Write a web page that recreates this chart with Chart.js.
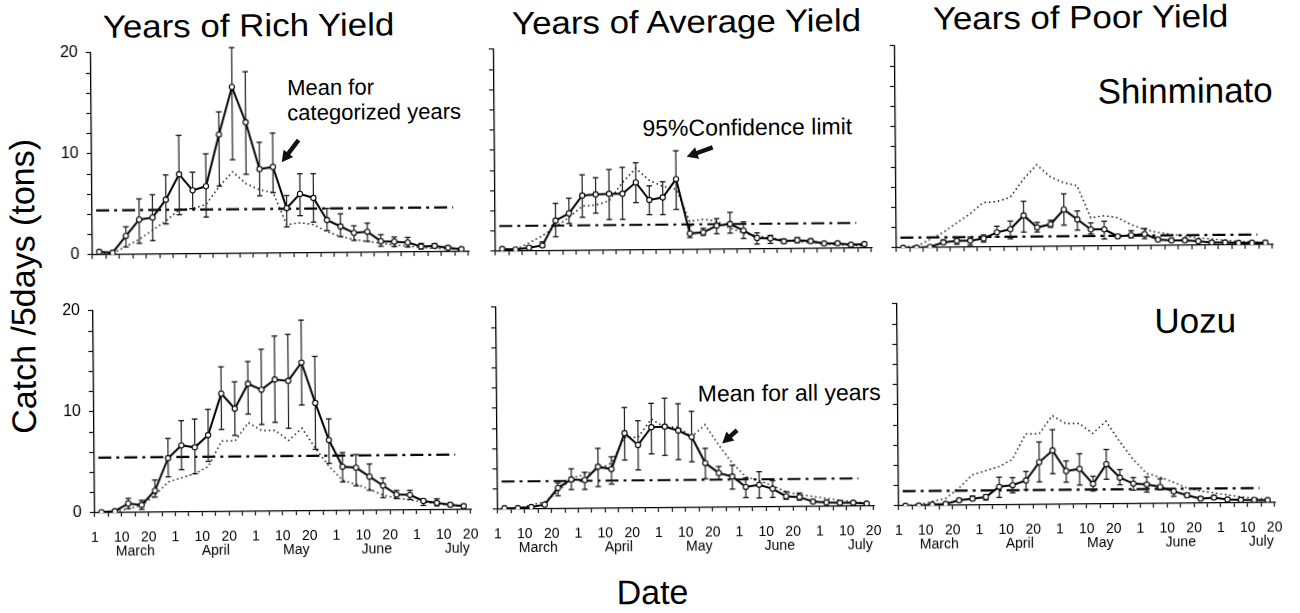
<!DOCTYPE html>
<html>
<head>
<meta charset="utf-8">
<script src="https://cdn.jsdelivr.net/npm/chart.js@4.4.1/dist/chart.umd.min.js"></script>
<style>
  html, body { margin: 0; padding: 0; background: #fff; }
  body { width: 1300px; height: 613px; overflow: hidden; font-family: "Liberation Sans", Arial, sans-serif; color: #000; }
  #page { position: absolute; left: 0; top: 0; width: 1300px; height: 613px; transform: rotate(-0.5deg); transform-origin: 650px 306px; }
  .panel { position: absolute; }
  .lbl { position: absolute; white-space: nowrap; line-height: 1; transform: translate(-50%, -50%); }
  .title { font-size: 32px; transform: translate(-50%, -50%) scaleX(1.09); }
  .station { font-size: 35px; }
  .note { position: absolute; white-space: nowrap; font-size: 23px; line-height: 25px; }
  #ylab { font-size: 34px; transform: translate(-50%, -50%) rotate(-90deg); }
  #xlab { font-size: 34px; }
  svg { position: absolute; left: 0; top: 0; }
</style>
</head>
<body>
<div id="page">
  <div class="lbl title" style="left:251px; top:22px;">Years of Rich Yield</div>
  <div class="lbl title" style="left:689px; top:22px;">Years of Average Yield</div>
  <div class="lbl title" style="left:1083px; top:21px;">Years of Poor Yield</div>
  <div class="lbl station" style="left:1187px; top:95px;">Shinminato</div>
  <div class="lbl station" style="left:1195px; top:325px;">Uozu</div>
  <div class="note" style="left:289px; top:72px; font-size:22px;">Mean for<br>categorized years</div>
  <div class="note" style="left:644px; top:116px;">95%Confidence limit</div>
  <div class="note" style="left:697px; top:382px;">Mean for all years</div>
  <div class="lbl" id="ylab" style="left:23px; top:281px;">Catch /5days (tons)</div>
  <div class="lbl" id="xlab" style="left:650px; top:592px;">Date</div>
  <svg id="arrows" width="1300" height="613"></svg>
</div>
<script>
const months = ['March', 'April', 'May', 'June', 'July'];
const dayMarks = ['1', '10', '20'];

// catch per 5-day period (tons), one value per pentad from 1 March to 20 July
const shinAllYears = [0.1, 0.15, 0.8, 1.5, 2.4, 3.3, 4.4, 4.5, 4.9, 6.7, 8.1, 6.9, 6.3, 6.0, 2.8, 3.0, 2.8, 2.1, 1.6, 1.3, 1.1, 0.9, 0.7, 0.6, 0.45, 0.35, 0.3, 0.2];

const richShinMean = [0.3, 0.2, 1.85, 3.45, 3.65, 5.4, 7.9, 6.3, 6.7, 11.8, 16.5, 13.0, 8.35, 8.55, 4.45, 5.85, 5.45, 3.25, 2.6, 1.95, 2.05, 1.1, 1.05, 0.95, 0.55, 0.6, 0.4, 0.25];
const richShinLo = [0.3, 0.2, 0.75, 1.1, 1.35, 3.0, 3.9, 4.5, 3.65, 6.7, 9.3, 7.85, 5.7, 6.0, 2.6, 3.7, 3.05, 2.2, 1.6, 1.2, 1.1, 0.6, 0.55, 0.5, 0.3, 0.4, 0.3, 0.2];
const richShinHi = [0.3, 0.2, 2.75, 5.5, 5.9, 7.85, 11.75, 8.1, 9.9, 14.05, 20.4, 18.0, 11.0, 11.9, 5.7, 7.85, 7.85, 4.4, 3.85, 2.65, 2.9, 1.75, 1.5, 1.45, 0.85, 0.8, 0.55, 0.3];
const richShinLevel = 4.4;

const avgShinMean = [0.23, 0.17, 0.33, 0.55, 3.0, 3.7, 5.45, 5.55, 5.6, 5.6, 6.7, 4.95, 5.2, 7.0, 1.6, 1.7, 2.35, 2.5, 1.85, 1.1, 1.05, 0.75, 0.85, 0.75, 0.5, 0.5, 0.35, 0.4];
const avgShinLo = [0.23, 0.17, 0.2, 0.4, 1.4, 2.7, 3.3, 3.7, 3.05, 3.05, 4.7, 3.5, 3.5, 4.0, 1.2, 1.4, 1.55, 1.6, 1.05, 0.5, 0.55, 0.55, 0.6, 0.55, 0.35, 0.4, 0.3, 0.3];
const avgShinHi = [0.23, 0.17, 0.5, 0.9, 4.7, 5.2, 7.5, 7.2, 8.0, 8.2, 8.65, 6.35, 6.75, 9.8, 2.4, 2.1, 3.05, 3.65, 2.7, 1.6, 1.35, 0.95, 1.1, 0.95, 0.6, 0.6, 0.45, 0.45];
const avgShinLevel = 2.5;

const poorShinMean = [0.0, 0.0, 0.07, 0.5, 0.65, 0.65, 0.85, 1.45, 1.75, 3.1, 1.9, 2.2, 3.65, 2.65, 1.65, 1.65, 0.95, 1.05, 1.15, 0.6, 0.5, 0.5, 0.4, 0.25, 0.25, 0.2, 0.2, 0.2];
const poorShinLo = [0.0, 0.0, 0.07, 0.35, 0.3, 0.2, 0.5, 1.0, 0.8, 1.45, 1.45, 1.9, 2.1, 1.6, 1.2, 0.7, 0.8, 0.8, 0.7, 0.45, 0.4, 0.35, 0.3, 0.2, 0.2, 0.15, 0.15, 0.15];
const poorShinHi = [0.0, 0.0, 0.07, 0.75, 1.0, 1.0, 1.2, 2.05, 2.55, 4.5, 2.4, 2.6, 5.2, 3.5, 2.3, 2.45, 1.1, 1.5, 1.7, 0.75, 0.65, 0.65, 0.5, 0.35, 0.3, 0.25, 0.25, 0.25];
const poorShinLevel = 1.0;

const uozuAllYears = [0.05, 0.1, 0.4, 0.7, 1.7, 3.0, 3.4, 3.8, 4.5, 7.0, 7.0, 8.8, 8.0, 8.0, 7.0, 8.2, 6.2, 4.4, 3.0, 2.6, 2.1, 1.5, 1.2, 1.0, 0.8, 0.6, 0.45, 0.3];

const richUozuMean = [0.07, 0.15, 0.9, 0.75, 2.15, 5.35, 6.6, 6.4, 7.6, 11.7, 10.2, 12.65, 12.05, 13.05, 12.9, 14.7, 10.7, 7.0, 4.35, 4.25, 3.35, 2.45, 1.55, 1.5, 0.9, 0.7, 0.5, 0.35];
const richUozuLo = [0.07, 0.15, 0.4, 0.3, 1.5, 3.5, 4.2, 3.8, 5.0, 8.15, 7.55, 9.65, 8.6, 8.8, 8.2, 10.5, 6.1, 4.7, 2.85, 2.45, 2.0, 1.25, 1.15, 1.05, 0.45, 0.4, 0.35, 0.25];
const richUozuHi = [0.07, 0.15, 1.4, 1.2, 3.2, 7.3, 9.05, 9.2, 10.15, 14.35, 12.85, 14.85, 16.05, 17.35, 17.5, 18.9, 15.3, 9.1, 5.75, 5.55, 4.6, 3.2, 1.95, 1.95, 1.05, 1.1, 0.65, 0.45];
const richUozuLevel = 5.45;

const avgUozuMean = [0.1, 0.1, 0.2, 0.43, 2.07, 2.9, 2.83, 4.14, 3.88, 7.43, 6.25, 8.0, 8.05, 7.65, 7.0, 4.4, 3.4, 3.05, 2.0, 2.2, 1.8, 1.05, 0.95, 0.5, 0.4, 0.35, 0.35, 0.25];
const avgUozuLo = [0.1, 0.1, 0.2, 0.35, 1.3, 1.9, 1.9, 2.17, 2.4, 4.77, 3.78, 5.36, 5.2, 4.77, 4.54, 2.85, 2.75, 1.8, 0.95, 0.9, 0.95, 0.75, 0.65, 0.4, 0.3, 0.3, 0.3, 0.2];
const avgUozuHi = [0.1, 0.1, 0.25, 0.55, 2.57, 3.95, 3.6, 5.95, 5.1, 9.97, 8.65, 10.36, 10.86, 10.3, 9.54, 5.86, 4.05, 4.15, 2.9, 3.5, 2.6, 1.5, 1.35, 0.65, 0.5, 0.45, 0.4, 0.3];
const avgUozuLevel = 2.75;

const poorUozuMean = [0.0, 0.0, 0.1, 0.15, 0.5, 0.65, 0.8, 1.8, 1.95, 2.4, 4.2, 5.35, 3.3, 3.5, 2.0, 3.95, 2.6, 2.0, 1.9, 1.65, 1.2, 0.8, 0.45, 0.55, 0.35, 0.3, 0.28, 0.25];
const poorUozuLo = [0.0, 0.0, 0.1, 0.15, 0.4, 0.5, 0.5, 0.75, 1.2, 1.5, 2.25, 3.05, 2.2, 1.9, 1.3, 2.45, 1.9, 1.35, 1.15, 1.35, 0.7, 0.6, 0.35, 0.4, 0.25, 0.2, 0.2, 0.2];
const poorUozuHi = [0.0, 0.0, 0.1, 0.2, 0.6, 0.9, 1.0, 2.75, 2.7, 3.3, 6.2, 7.4, 4.3, 5.0, 2.75, 5.4, 3.4, 2.6, 2.65, 2.45, 1.45, 1.0, 0.6, 0.7, 0.45, 0.4, 0.35, 0.3];
const poorUozuLevel = 1.45;

const yTickLabels = [0, 10, 20];

// layout of the 2x3 grid (plot areas), in px
const colLeft = [93, 496, 897];
const rowTop = [48, 306];
const plotW = 377, plotH = 202;
const padL = 60, padT = 12, padR = 16, padB = 60;
const levelSpan = [0.3, 26.9];

const panels = [
  { row: 0, col: 0, mean: richShinMean, lo: richShinLo, hi: richShinHi, all: shinAllYears, level: richShinLevel },
  { row: 0, col: 1, mean: avgShinMean, lo: avgShinLo, hi: avgShinHi, all: shinAllYears, level: avgShinLevel },
  { row: 0, col: 2, mean: poorShinMean, lo: poorShinLo, hi: poorShinHi, all: shinAllYears, level: poorShinLevel },
  { row: 1, col: 0, mean: richUozuMean, lo: richUozuLo, hi: richUozuHi, all: uozuAllYears, level: richUozuLevel },
  { row: 1, col: 1, mean: avgUozuMean, lo: avgUozuLo, hi: avgUozuHi, all: uozuAllYears, level: avgUozuLevel },
  { row: 1, col: 2, mean: poorUozuMean, lo: poorUozuLo, hi: poorUozuHi, all: uozuAllYears, level: poorUozuLevel }
];

const page = document.getElementById('page');
const ink = '#000';

function xTickLabel(v) {
  const m = Math.floor(v / 6), r = v % 6;
  if (r === 0) return dayMarks[0];
  if (r === 2) return dayMarks[1];
  if (r === 4) return dayMarks[2];
  if (r === 3 && months[m]) return ['', months[m]];
  return '';
}

function fixSize(prop, size) {
  return function (scale) {
    scale[prop] = size;
    scale.paddingLeft = 0; scale.paddingRight = 0;
    scale.paddingTop = 0; scale.paddingBottom = 0;
  };
}

function drawPanel(p) {
  const wrap = document.createElement('div');
  wrap.className = 'panel';
  wrap.style.left = (colLeft[p.col] - padL) + 'px';
  wrap.style.top = (rowTop[p.row] - padT) + 'px';
  const cv = document.createElement('canvas');
  cv.width = plotW + padL + padR;
  cv.height = plotH + padT + padB;
  wrap.appendChild(cv);
  page.appendChild(wrap);

  const xs = p.mean.map((_, k) => k + 0.5);
  const whiskers = [];
  const caps = [];
  xs.forEach((x, k) => {
    if (p.hi[k] - p.lo[k] < 0.05) return;
    whiskers.push({ x, y: p.lo[k] }, { x, y: p.hi[k] }, { x, y: null });
    caps.push({ x, y: p.lo[k] }, { x, y: p.hi[k] });
  });
  const showX = p.row === 1;
  const showY = p.col === 0;

  new Chart(cv, {
    type: 'line',
    data: {
      datasets: [
        {
          data: xs.map((x, k) => ({ x, y: p.mean[k] })),
          borderColor: ink, borderWidth: 2,
          pointRadius: 2.6, pointBackgroundColor: '#fff',
          pointBorderColor: ink, pointBorderWidth: 1.1
        },
        {
          data: caps, showLine: false, clip: false,
          pointStyle: 'line', pointRadius: 2.8,
          pointBorderColor: '#111', pointBorderWidth: 1.3
        },
        {
          data: whiskers, spanGaps: false, clip: false,
          borderColor: '#1e1e1e', borderWidth: 1.2, pointRadius: 0
        },
        {
          data: xs.map((x, k) => ({ x, y: p.all[k] })),
          borderColor: '#111', borderWidth: 1.5, borderDash: [1.5, 3], pointRadius: 0
        },
        {
          data: levelSpan.map(x => ({ x, y: p.level })),
          borderColor: ink, borderWidth: 2.2, borderDash: [13, 5, 3, 5], pointRadius: 0
        }
      ]
    },
    options: {
      responsive: false,
      animation: false,
      devicePixelRatio: 1,
      layout: { padding: { left: 0, top: padT, right: padR, bottom: 0 } },
      plugins: { legend: { display: false }, tooltip: { enabled: false } },
      scales: {
        x: {
          type: 'linear', min: 0, max: 28.1, offset: false,
          afterBuildTicks: (scale) => {
            scale.ticks = [];
            for (let v = 0; v <= 28; v++) scale.ticks.push({ value: v });
          },
          afterFit: fixSize('height', padB),
          border: { display: true, color: ink, width: 1.3 },
          grid: { drawOnChartArea: false, drawTicks: true, tickLength: 4, color: ink, lineWidth: 1.1, offset: false },
          ticks: {
            autoSkip: false, maxRotation: 0, minRotation: 0, padding: 14, color: ink,
            font: { family: '"Liberation Sans", Arial, sans-serif', size: 14, lineHeight: 1 },
            callback: (v) => showX ? xTickLabel(v) : ''
          }
        },
        y: {
          type: 'linear', min: 0, max: 20,
          afterFit: fixSize('width', padL),
          border: { display: true, color: ink, width: 1.3 },
          grid: { drawOnChartArea: false, drawTicks: true, tickLength: 5, color: ink, lineWidth: 1.1 },
          ticks: {
            stepSize: 2, autoSkip: false, padding: 8, color: ink,
            font: { family: '"Liberation Sans", Arial, sans-serif', size: 16 },
            callback: (v) => showY && yTickLabels.includes(v) ? String(v) : ''
          }
        }
      }
    }
  });
}

panels.forEach(drawPanel);

// pointer arrows next to the notes
function arrow(x1, y1, x2, y2) {
  const dx = x2 - x1, dy = y2 - y1, len = Math.hypot(dx, dy);
  const ux = dx / len, uy = dy / len, nx = -uy, ny = ux;
  const sw = 2.2, hw = 6, hl = 11;
  const bx = x2 - ux * hl, by = y2 - uy * hl;
  const pts = [
    [x1 + nx * sw, y1 + ny * sw], [bx + nx * sw, by + ny * sw], [bx + nx * hw, by + ny * hw],
    [x2, y2],
    [bx - nx * hw, by - ny * hw], [bx - nx * sw, by - ny * sw], [x1 - nx * sw, y1 - ny * sw]
  ];
  const poly = document.createElementNS('http://www.w3.org/2000/svg', 'polygon');
  poly.setAttribute('points', pts.map(q => q.join(',')).join(' '));
  poly.setAttribute('fill', '#111');
  document.getElementById('arrows').appendChild(poly);
}
arrow(300, 137, 283, 159);
arrow(714, 148, 688, 157);
arrow(736, 431, 721, 444);
</script>
</body>
</html>
